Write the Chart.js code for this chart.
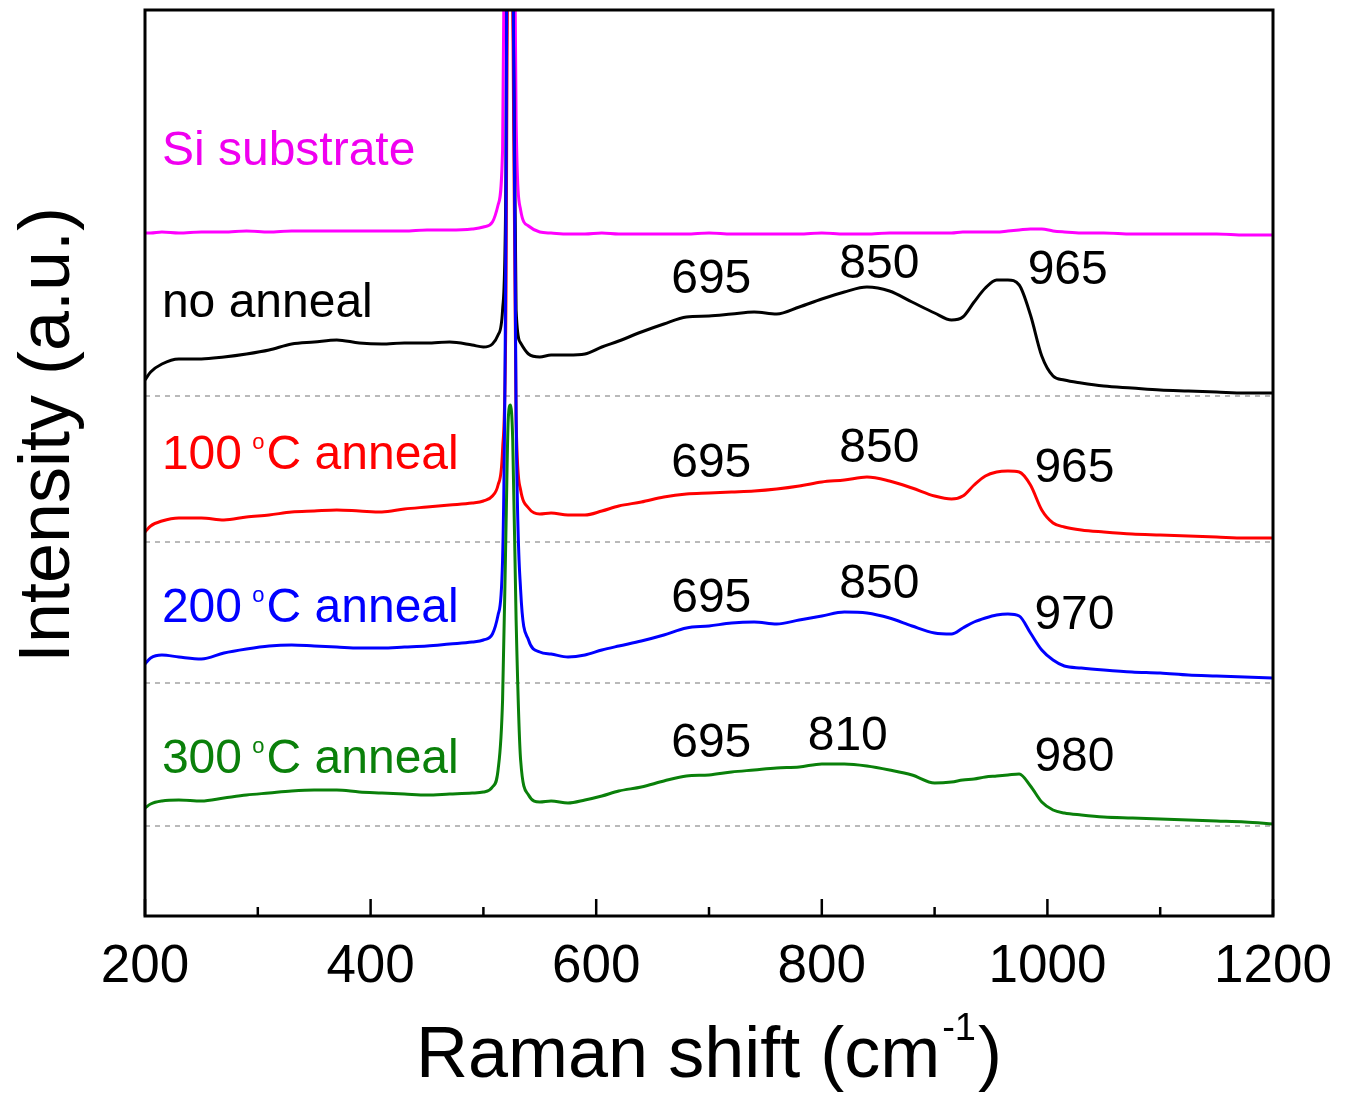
<!DOCTYPE html>
<html>
<head>
<meta charset="utf-8">
<script src="https://cdn.jsdelivr.net/npm/chart.js@4.4.0/dist/chart.umd.min.js"></script>
<style>
  html, body { margin: 0; padding: 0; background: #ffffff; }
  #wrap { width: 1349px; height: 1095px; }
</style>
</head>
<body>
<div id="wrap"><canvas id="raman" width="1349" height="1095"></canvas></div>
<script>
// Raman shift grid (cm^-1), shared by all spectra
const ramanShift = [200, 205, 215, 230, 250, 270, 290, 310, 330, 350, 370, 390, 410, 430, 450, 470, 490, 500, 508, 513,
  517, 520, 522, 524, 526, 529, 533, 540, 550, 560, 575, 590, 605, 620, 640, 660, 680, 700, 720, 740,
  760, 780, 800, 820, 840, 860, 880, 900, 915, 925, 935, 945, 955, 965, 975, 985, 995, 1005, 1015, 1030,
  1050, 1075, 1100, 1125, 1150, 1175, 1200];

// Stacked intensities (a.u., vertically offset per sample)
const siSubstrate = [683, 683, 684, 683, 684, 684, 685, 684, 685, 685, 685, 685, 685, 685, 686, 686, 687, 689, 694, 711,
  766, 1166, 1816, 1916, 1216, 796, 706, 690, 684, 683, 682, 682, 683, 682, 682, 682, 682, 683, 682, 682,
  682, 682, 683, 682, 682, 683, 683, 683, 683, 684, 684, 684, 684, 685, 686, 687, 687, 685, 684, 683,
  683, 682, 682, 682, 682, 681, 681];

const noAnneal = [536, 544, 552, 557, 557, 559, 562, 566, 572, 574, 576, 573, 572, 573, 573, 574, 571, 569, 572, 581,
  606, 746, 1216, 1416, 950, 606, 573, 562, 559, 561, 561, 562, 569, 575, 584, 592, 599, 600, 602, 604,
  602, 609, 617, 624, 629, 625, 614, 603, 596, 599, 614, 628, 636, 636, 631, 601, 560, 540, 536, 533,
  530, 528, 526, 525, 524, 523, 523];

const anneal100 = [384, 390, 395, 398, 398, 396, 399, 401, 404, 405, 406, 405, 404, 407, 409, 411, 413, 415, 420, 431,
  466, 616, 1116, 1316, 930, 496, 426, 408, 402, 403, 401, 401, 405, 410, 414, 419, 422, 423, 424, 425,
  427, 430, 434, 436, 439, 435, 428, 420, 417, 420, 431, 440, 444, 445, 444, 431, 406, 393, 389, 386,
  384, 382, 381, 380, 379, 378, 378];

const anneal200 = [252, 258, 261, 259, 257, 263, 267, 270, 271, 270, 269, 268, 268, 269, 270, 272, 274, 276, 282, 301,
  356, 700, 1400, 1600, 1000, 500, 326, 276, 264, 262, 259, 261, 266, 270, 275, 281, 288, 290, 293, 294,
  292, 296, 300, 304, 303, 298, 290, 283, 282, 288, 294, 298, 301, 302, 300, 283, 266, 256, 250, 248,
  246, 244, 243, 241, 240, 239, 238];

const anneal300 = [108, 112, 115, 116, 115, 118, 121, 123, 125, 126, 126, 124, 123, 122, 121, 122, 123, 124, 129, 146,
  216, 386, 496, 511, 476, 296, 156, 121, 114, 115, 113, 116, 120, 125, 129, 135, 140, 141, 144, 146,
  148, 149, 152, 152, 150, 146, 141, 133, 134, 136, 137, 139, 140, 141, 142, 130, 114, 106, 103, 101,
  99, 98, 97, 96, 95, 94, 92];

// Zero level of each offset spectrum
const baselineLevels = [520, 374, 233, 90];

// Axis ticks
const majorTicks = [200, 400, 600, 800, 1000, 1200];
const minorTicks = [300, 500, 700, 900, 1100];

const FONT = '"Liberation Sans", Arial, Helvetica, sans-serif';

const spectra = [
  { name: 'Si substrate', values: siSubstrate, color: '#FF00FF', order: 5 },
  { name: 'no anneal', values: noAnneal, color: '#000000', order: 4 },
  { name: '100 °C anneal', values: anneal100, color: '#FF0000', order: 3 },
  { name: '200 °C anneal', values: anneal200, color: '#0000FF', order: 2 },
  { name: '300 °C anneal', values: anneal300, color: '#0A800A', order: 1 }
];

// Sample names written inside the plot (x in cm^-1, y in a.u.)
const sampleNotes = [
  { parts: [['Si substrate', 0]], color: '#F000F0', x: 215, y: 751 },
  { parts: [['no anneal', 0]], color: '#000000', x: 215, y: 599 },
  { parts: [['100 ', 0], ['o', 1], ['C anneal', 0]], color: '#FF0000', x: 215, y: 447 },
  { parts: [['200 ', 0], ['o', 1], ['C anneal', 0]], color: '#0000FF', x: 215, y: 294 },
  { parts: [['300 ', 0], ['o', 1], ['C anneal', 0]], color: '#0A800A', x: 215, y: 143 }
];

// Band positions written above each spectrum (centred at x)
const bandNotes = [
  { text: '695', x: 702, y: 623 }, { text: '850', x: 851, y: 638 }, { text: '965', x: 1018, y: 632 },
  { text: '695', x: 702, y: 439 }, { text: '850', x: 851, y: 454 }, { text: '965', x: 1024, y: 434 },
  { text: '695', x: 702, y: 304 }, { text: '850', x: 851, y: 318 }, { text: '970', x: 1024, y: 287 },
  { text: '695', x: 702, y: 159 }, { text: '810', x: 823, y: 166 }, { text: '980', x: 1024, y: 145 }
];

const datasets = [];
spectra.forEach(s => {
  datasets.push({
    label: s.name,
    data: ramanShift.map((w, i) => ({ x: w, y: s.values[i] })),
    borderColor: s.color,
    borderWidth: 3,
    pointRadius: 0,
    cubicInterpolationMode: 'monotone',
    borderJoinStyle: 'round',
    clip: 0,
    order: s.order
  });
});
baselineLevels.forEach((lvl, i) => {
  datasets.push({
    label: 'zero ' + i,
    data: [{ x: 200, y: lvl }, { x: 1200, y: lvl }],
    borderColor: '#8c8c8c',
    borderWidth: 1.2,
    borderDash: [5, 5],
    pointRadius: 0,
    clip: 0,
    order: 10
  });
});

const decorations = {
  id: 'decorations',
  afterDatasetsDraw(chart) {
    const { ctx, chartArea: a, scales: { x, y } } = chart;
    ctx.save();

    // frame
    ctx.strokeStyle = '#000';
    ctx.lineWidth = 3;
    ctx.strokeRect(a.left, a.top, a.right - a.left, a.bottom - a.top);

    // inward ticks on the bottom axis
    ctx.lineWidth = 2.5;
    const tick = (v, len) => {
      const px = x.getPixelForValue(v);
      ctx.beginPath();
      ctx.moveTo(px, a.bottom);
      ctx.lineTo(px, a.bottom - len);
      ctx.stroke();
    };
    majorTicks.forEach(v => tick(v, 17));
    minorTicks.forEach(v => tick(v, 9));

    // sample names
    ctx.textBaseline = 'alphabetic';
    ctx.textAlign = 'left';
    sampleNotes.forEach(n => {
      let px = x.getPixelForValue(n.x);
      const py = y.getPixelForValue(n.y);
      ctx.fillStyle = n.color;
      n.parts.forEach(([t, sup]) => {
        if (sup) {
          ctx.font = '22px ' + FONT;
          ctx.fillText(t, px - 3, py - 20);
          px += ctx.measureText(t).width - 1;
        } else {
          ctx.font = '48px ' + FONT;
          ctx.fillText(t, px, py);
          px += ctx.measureText(t).width;
        }
      });
    });

    // band positions
    ctx.fillStyle = '#000';
    ctx.textAlign = 'center';
    ctx.font = '48px ' + FONT;
    bandNotes.forEach(n => {
      ctx.fillText(n.text, x.getPixelForValue(n.x), y.getPixelForValue(n.y));
    });

    // x axis title with superscript
    const main1 = 'Raman shift (cm', sup = '-1', main2 = ')';
    ctx.textAlign = 'left';
    ctx.font = '72px ' + FONT;
    const w1 = ctx.measureText(main1).width;
    const w3 = ctx.measureText(main2).width;
    ctx.font = '38px ' + FONT;
    const w2 = ctx.measureText(sup).width;
    let tx = (a.left + a.right) / 2 - (w1 + w2 + w3 + 4) / 2;
    const tb = a.bottom + 161;
    ctx.font = '72px ' + FONT;
    ctx.fillText(main1, tx, tb);
    tx += w1 + 2;
    ctx.font = '38px ' + FONT;
    ctx.fillText(sup, tx, tb - 37);
    tx += w2 + 2;
    ctx.font = '72px ' + FONT;
    ctx.fillText(main2, tx, tb);

    // y axis title
    ctx.save();
    ctx.translate(69, a.top + 425);
    ctx.rotate(-Math.PI / 2);
    ctx.textAlign = 'center';
    ctx.font = '72px ' + FONT;
    ctx.fillText('Intensity (a.u.)', 0, 0);
    ctx.restore();

    ctx.restore();
  }
};

new Chart(document.getElementById('raman'), {
  type: 'line',
  data: { datasets },
  options: {
    responsive: false,
    animation: false,
    events: [],
    layout: { padding: { top: 10, right: 76, left: 0, bottom: 0 } },
    plugins: { legend: { display: false }, tooltip: { enabled: false } },
    scales: {
      x: {
        type: 'linear',
        min: 200,
        max: 1200,
        grid: { display: false, drawTicks: false },
        border: { display: false },
        afterBuildTicks: s => { s.ticks = majorTicks.map(v => ({ value: v })); },
        ticks: {
          color: '#000',
          font: { family: FONT, size: 53 },
          padding: 20,
          maxRotation: 0,
          autoSkip: false,
          callback: v => String(v)
        },
        afterFit: s => { s.height = 179; s.paddingLeft = 0; s.paddingRight = 0; }
      },
      y: {
        type: 'linear',
        min: 0,
        max: 906,
        grid: { display: false, drawTicks: false },
        border: { display: false },
        ticks: { display: false },
        afterFit: s => { s.width = 145; }
      }
    }
  },
  plugins: [decorations]
});
</script>
</body>
</html>
